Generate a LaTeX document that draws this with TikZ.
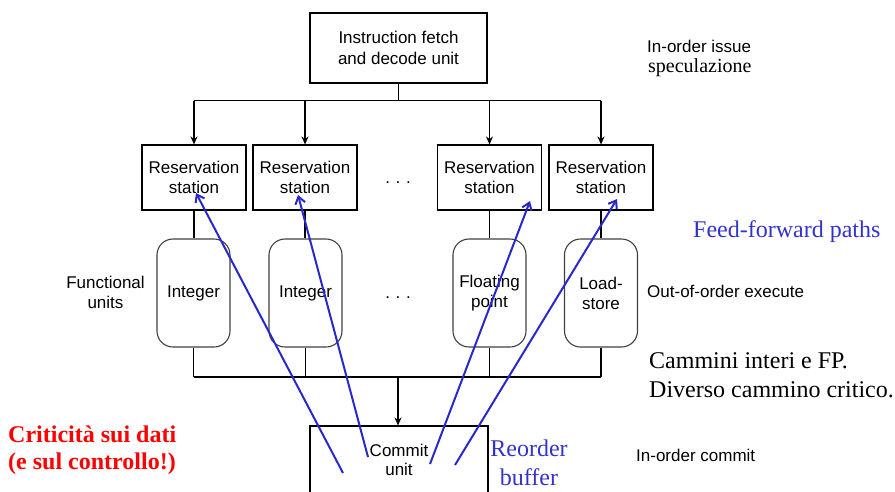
\documentclass[tikz,border=0pt]{standalone}
\usepackage{fontspec}
\setmainfont{Liberation Serif}
\newfontfamily\hv{Liberation Sans}
\usetikzlibrary{arrows.meta,calc}
\definecolor{fwdblue}{RGB}{40,40,205}
\definecolor{txtblue}{RGB}{51,51,204}
\begin{document}
\begin{tikzpicture}[x=1pt,y=-1pt,
  sanslabel/.style={font=\hv\fontsize{17}{20}\selectfont, inner sep=0, align=center},
  unitbox/.style={sanslabel, draw, line width=1.1pt},
  rsbox/.style={unitbox, minimum width=104pt, minimum height=65pt},
  fubox/.style={sanslabel, draw=black!75, line width=1.1pt, rounded corners=16pt,
                minimum width=73pt, minimum height=108pt},
  wire/.style={line width=1.1pt},
  feedarrow/.style={wire, -{Stealth[length=8pt,width=7pt]}},
  fwdpath/.style={fwdblue, line width=2pt, -{Straight Barb[length=7pt,width=10pt]}},
  serifnote/.style={font=\fontsize{24}{29}\selectfont, inner sep=0, align=left, anchor=west},
  dots/.style={sanslabel}]
\clip (0,0) rectangle (895,491);

% front end
\node[unitbox, minimum width=177pt, minimum height=70pt, font=\hv\fontsize{17}{21}\selectfont]
  (ifu) at (398.5,48) {Instruction fetch\\and decode unit};

% reservation stations
\node[rsbox] (rs1) at (194,177.5) {Reservation\\station};
\node[rsbox] (rs2) at (305,177.5) {Reservation\\station};
\node[rsbox] (rs3) at (489.5,177.5) {Reservation\\station};
\node[rsbox] (rs4) at (601,177.5) {Reservation\\station};

% functional units
\node[fubox] (fu1) at (193.5,293) {Integer};
\node[fubox] (fu2) at (305.5,293) {Integer};
\node[fubox] (fu3) at (489.5,293) {Floating\\point};
\node[fubox] (fu4) at (601,293) {Load-\\store};

% commit unit (runs off the lower edge)
\node[draw, line width=1.1pt, minimum width=178pt, minimum height=94pt, inner sep=0]
  (cu) at (399,473) {};
\node[sanslabel, font=\hv\fontsize{17}{19}\selectfont] (cut) at (399,459.5) {Commit\\unit};

% issue tree
\coordinate (issue) at ($(ifu.south)+(0,17)$);
\draw[wire] (ifu.south) -- (issue);
\draw[wire] (rs1.north |- issue) -- (rs4.north |- issue);
\foreach \r in {rs1,rs2,rs3,rs4}
  \draw[feedarrow] (\r.north |- issue) -- (\r.north);

% station to unit links
\foreach \i in {1,2,3,4}
  \draw[wire] (rs\i.south) -- (rs\i.south |- fu\i.north);

% result bus
\coordinate (bus) at (398,377);
\foreach \i in {1,2,3,4}
  \draw[wire] (fu\i.south) -- (fu\i.south |- bus);
\draw[wire] (fu1.south |- bus) -- (fu4.south |- bus);
\draw[feedarrow] (bus) -- (bus |- cu.north);

% ellipses between columns
\node[dots] (d1) at (398,183) {.\,\,.\,\,.};
\node[dots] (d2) at (398,298) {.\,\,.\,\,.};

% side labels
\node[sanslabel] (fulab) at (105.5,292.5) {Functional\\units};
\node[sanslabel, anchor=west] (iss) at (647,46) {In-order issue};
\node[inner sep=0, anchor=west, font=\fontsize{20}{24}\selectfont] (spec) at (648,68) {speculazione};
\node[sanslabel, anchor=west] (ooo) at (647,291) {Out-of-order execute};
\node[sanslabel, anchor=west] (ioc) at (636,455) {In-order commit};

\node[serifnote, text=txtblue] (ffp) at (693,232) {Feed-forward paths};
\node[serifnote] (cam) at (649,375.5) {Cammini interi e FP.\\Diverso cammino critico.};
\node[serifnote, text=red, font=\bfseries\fontsize{24}{27}\selectfont] (crit) at (8,450)
  {Criticità sui dati\\(e sul controllo!)};
\node[serifnote, text=txtblue, align=center, anchor=center] (rob) at (529,463) {Reorder\\buffer};

% forwarding paths from the commit unit back to the stations
\coordinate (f1) at (343,473);
\coordinate (f2) at (368,457);
\coordinate (f3) at (430,464);
\coordinate (f4) at (455,465);
\coordinate (t1) at (196,193);
\coordinate (t2) at (298,195);
\coordinate (t3) at (530,201);
\coordinate (t4) at (617,199);
\foreach \i in {1,2,3,4}
  \draw[fwdpath] (f\i) -- (t\i);
\end{tikzpicture}
\end{document}
